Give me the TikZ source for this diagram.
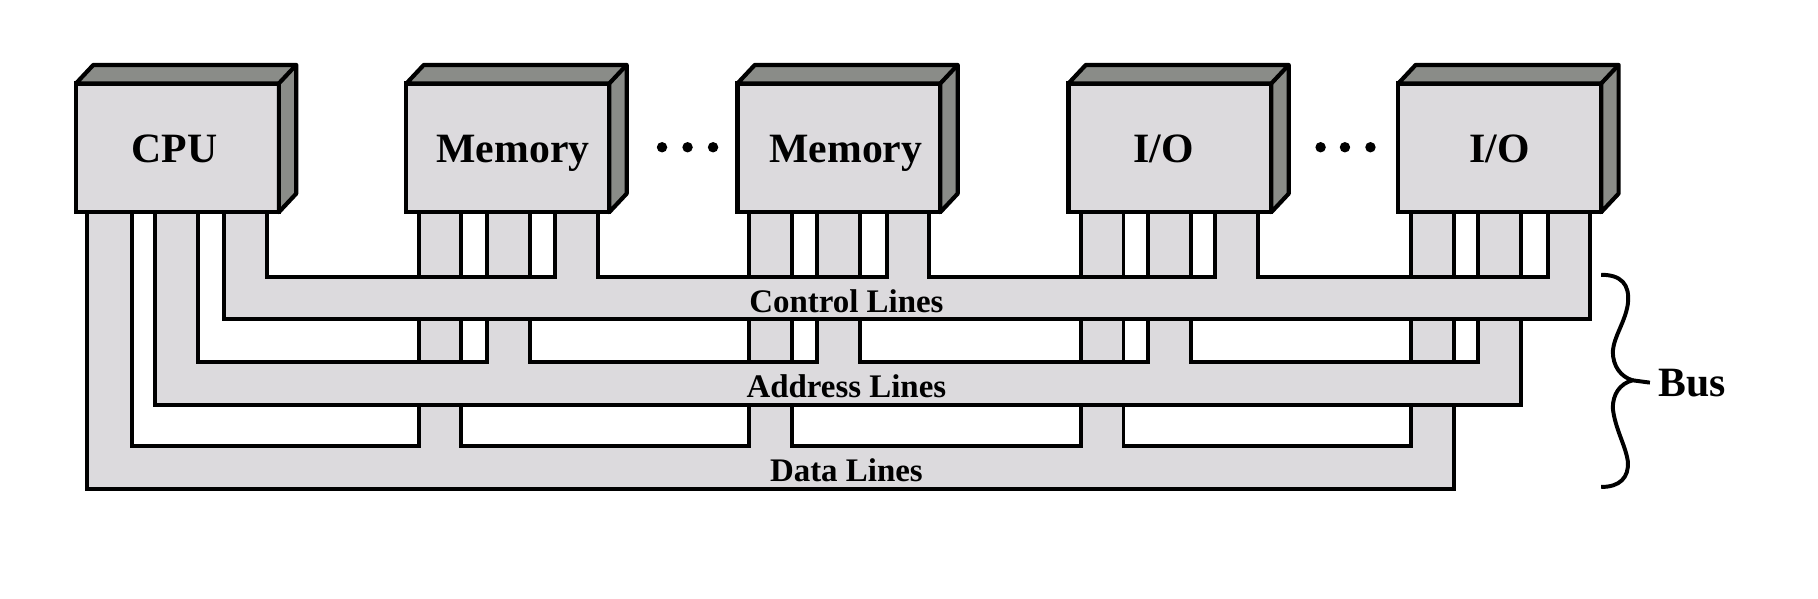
\documentclass[tikz,border=0pt]{standalone}
\usepackage{fontspec}
\setmainfont{Liberation Serif}
\definecolor{bandgray}{HTML}{DCDADD}
\definecolor{facegray}{HTML}{8A8C88}
\tikzset{
    bandline/.style={fill=bandgray,draw=black,line width=3.4pt},
    modbox/.style={rectangle,fill=bandgray,draw=black,line width=3.6pt,minimum width=175pt,minimum height=111pt,inner sep=0pt,outer sep=0pt},
    modface/.style={fill=facegray,draw=black,line width=3.6pt,line join=round},
    modlabel/.style={font=\fontsize{36}{36}\selectfont\bfseries,inner sep=0pt},
    bandlabel/.style={font=\fontsize{28.4}{28.4}\selectfont\bfseries,inner sep=0pt},
    gapdot/.style={circle,fill=black,minimum size=9pt,inner sep=0pt}
}
\begin{document}
\begin{tikzpicture}[x=1pt,y=-1pt]
    \useasboundingbox (0,0) rectangle (1568,515.8);

    % data, address, control
    \draw[bandline] (75,183) -- (75,422) -- (1254,422) -- (1254,183) -- (1217,183) -- (1217,385) -- (969,385) -- (969,183) -- (932,183) -- (932,385) -- (683,385) -- (683,183) -- (646,183) -- (646,385) -- (398,385) -- (398,183) -- (361,183) -- (361,385) -- (114,385) -- (114,183) -- cycle;
    \draw[bandline] (134,183) -- (134,349) -- (1312,349) -- (1312,183) -- (1275,183) -- (1275,312) -- (1027,312) -- (1027,183) -- (990,183) -- (990,312) -- (742,312) -- (742,183) -- (705,183) -- (705,312) -- (457,312) -- (457,183) -- (420,183) -- (420,312) -- (171,312) -- (171,183) -- cycle;
    \draw[bandline] (193,183) -- (193,275) -- (1371,275) -- (1371,183) -- (1335,183) -- (1335,239) -- (1085,239) -- (1085,183) -- (1048,183) -- (1048,239) -- (801,239) -- (801,183) -- (765,183) -- (765,239) -- (516,239) -- (516,183) -- (479,183) -- (479,239) -- (230,239) -- (230,183) -- cycle;

    \node[bandlabel] (control) at (730,259.5) {Control Lines};
    \node[bandlabel] (address) at (730,333) {Address Lines};
    \node[bandlabel] (data) at (730,406) {Data Lines};

    % modules
    \foreach \name/\bx/\tx/\lab in {cpu/153/150.5/CPU,mema/438/442.5/Memory,memb/723.5/729.5/Memory,ioa/1009/1003.5/I\slash O,iob/1293.5/1293.5/I\slash O} {
        \node[modbox] (\name) at (\bx,127.5) {};
        \draw[modface] (\name.north west) -- ++(15,-16) -- ++(175,0) -- ++(0,111) -- (\name.south east) -- (\name.north east) -- cycle;
        \draw[modface] (\name.north east) -- ++(15,-16);
        \node[modlabel,anchor=base] (\name-text) at (\tx,140.5) {\lab};
    }

    % dots between modules
    \foreach \name/\xx in {da/571,db/593,dc/615,dd/1139,de/1160,df/1182}
        \node[gapdot] (\name) at (\xx,127) {};

    % bus brace
    \node[modlabel,anchor=west] (bus) at (1430,330) {Bus};
    \coordinate (bracetip) at (1408,328);
    \draw[line width=3.4pt] (1381,237) .. controls (1398,237) and (1406,245) .. (1404,262)
        .. controls (1402,277) and (1392,290) .. (1391,303)
        .. controls (1391,316) and (1398,325) .. (bracetip)
        .. controls (1397,331) and (1391,340) .. (1391,352)
        .. controls (1393,370) and (1402,384) .. (1404,398)
        .. controls (1405,412) and (1397,420) .. (1381,420);
    \draw[line width=3.4pt] (bracetip) -- (bus.west -| 1423,0);
\end{tikzpicture}
\end{document}
